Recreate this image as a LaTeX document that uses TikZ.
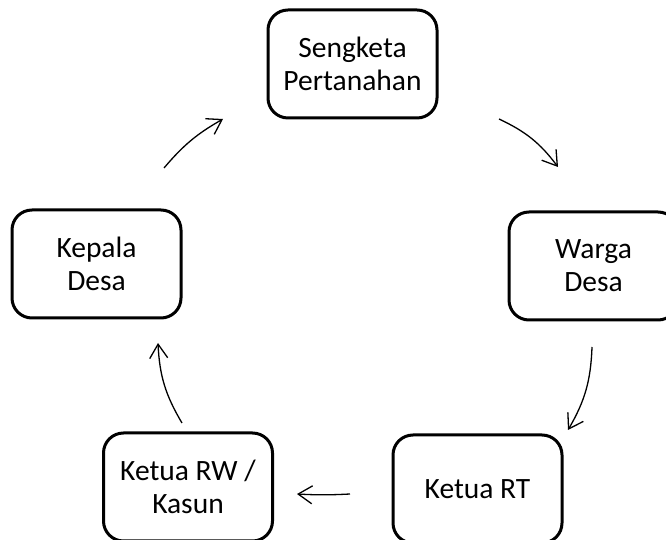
\documentclass[tikz,border=0pt]{standalone}
\usepackage{fontspec}
\setmainfont{Carlito}
\usetikzlibrary{arrows.meta}
\tikzset {
  % rounded box for each party
  box/.style = {draw, rounded corners=20pt, line width=3pt, minimum width=169pt,
    minimum height=108pt, align=center, inner sep=0pt,
    font=\fontsize{29.5}{33}\selectfont},
  % loose arrows between the boxes
  flow/.style = {-{Straight Barb[length=14pt, width=18pt]}, line width=1.3pt, bend left=14},
}

\begin{document}
\begin{tikzpicture}[x=1pt, y=1pt]
        \useasboundingbox (0, 0) rectangle (666, 540);

        \node[box] (sengketa) at (352.5, 476) {Sengketa\\Pertanahan};
        \node[box] (warga) at (593.5, 274) {Warga\\Desa};
        \node[box] (rt) at (477.5, 51) {Ketua RT};
        \node[box] (rw) at (188, 53) {Ketua RW /\\Kasun};
        \node[box] (kades) at (96.5, 276) {Kepala\\Desa};

        \coordinate (a1) at (164, 372);
        \coordinate (b1) at (223, 421);
        \coordinate (a2) at (499, 421);
        \coordinate (b2) at (558, 373);
        \coordinate (a3) at (592, 193);
        \coordinate (b3) at (568, 110);
        \coordinate (a4) at (350, 46);
        \coordinate (b4) at (297, 46);
        \coordinate (a5) at (182, 117);
        \coordinate (b5) at (158, 197);

        \draw [flow, bend left=10] (a1) to (b1);
        \draw [flow] (a2) to (b2);
        \draw [flow] (a3) to (b3);
        \draw [flow, bend left=3] (a4) to (b4);
        \draw [flow] (a5) to (b5);
      \end{tikzpicture}
\end{document}
